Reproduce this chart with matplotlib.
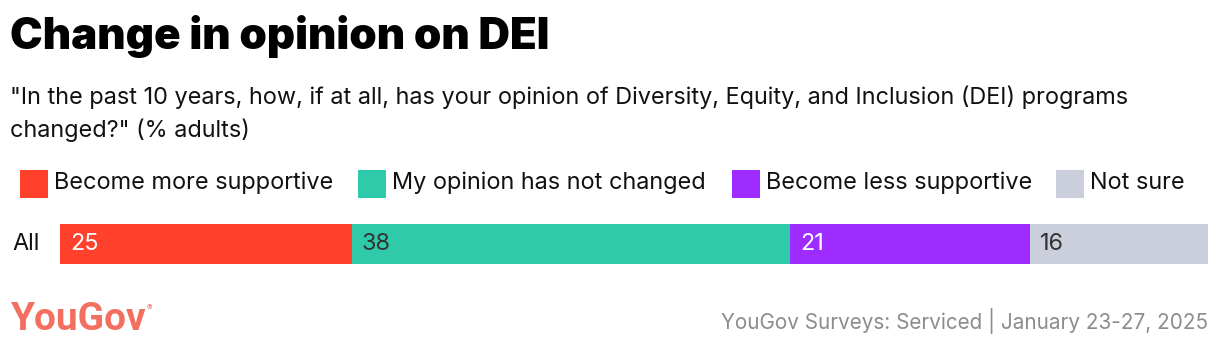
import matplotlib.pyplot as plt
import matplotlib
from matplotlib.patches import Rectangle

matplotlib.rc('font', family=['Inter', 'DejaVu Sans'])

# data
categories = ["Become more supportive", "My opinion has not changed",
              "Become less supportive", "Not sure"]
values = [25.4, 38.2, 20.9, 15.5]
colors = ['#ff412c', '#2fcaa9', '#9e2bff', '#cacfdb']
label_colors = ['white', '#333333', 'white', '#333333']
row_label = "All"

W, H = 1220, 352
fig = plt.figure(figsize=(W / 100, H / 100), dpi=100)

def fx(px):
    return px / W

def fy(py):
    return 1 - py / H

# title + subtitle
fig.text(fx(10), fy(37), "Change in opinion on DEI", fontsize=31.5, fontweight='black',
         va='center', ha='left')
fig.text(fx(10), fy(97), '"In the past 10 years, how, if at all, has your opinion of Diversity, Equity, and Inclusion (DEI) programs',
         fontsize=16.9, va='center', ha='left', color='#111111')
fig.text(fx(10), fy(130), 'changed?" (% adults)', fontsize=16.9, va='center', ha='left', color='#111111')

# legend
leg_sq = [20, 358, 732, 1056]
for x0, cat, c in zip(leg_sq, categories, colors):
    fig.patches.append(Rectangle((fx(x0), fy(198)), 28 / W, 28 / H, transform=fig.transFigure,
                                 facecolor=c, edgecolor='none'))
    fig.text(fx(x0 + 34), fy(183), cat, fontsize=16.9, va='center', ha='left', color='#111111')

# bar
ax = fig.add_axes([fx(60), fy(264), (1208 - 60) / W, 40 / H])
left = 0
for v, c, lc in zip(values, colors, label_colors):
    ax.barh(0, v, left=left, color=c, height=1, edgecolor='none')
    ax.text(left + 0.9, 0, str(round(v)), color=lc, fontsize=16.9, va='center', ha='left')
    left += v
ax.set_xlim(0, sum(values))
ax.set_ylim(-0.5, 0.5)
ax.axis('off')
fig.text(fx(12), fy(244), row_label, fontsize=16.9, va='center', ha='left', color='#111111')

# footer
fig.text(fx(11), fy(320), "YouGov", fontsize=28, va='center', ha='left', color='#f36f5f',
         fontweight='bold', family=['Roboto', 'DejaVu Sans'])
fig.text(fx(147), fy(308), "®", fontsize=6, va='center', ha='left', color='#f36f5f')
fig.text(fx(1208), fy(321), "YouGov Surveys: Serviced | January 23-27, 2025", fontsize=14.9,
         va='center', ha='right', color='#8c8c8c')

fig.savefig('out.png', dpi=100)
